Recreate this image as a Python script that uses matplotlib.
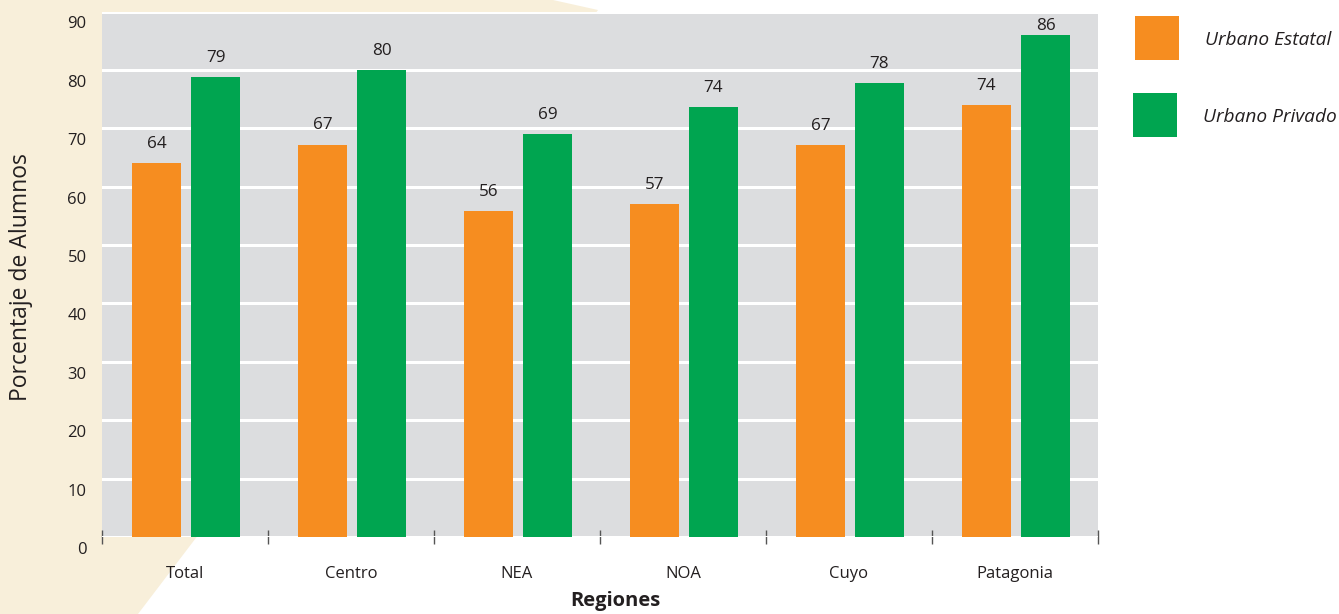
import matplotlib
matplotlib.use("Agg")
import matplotlib.pyplot as plt
from matplotlib.patches import Polygon, Rectangle
import matplotlib.transforms as mtransforms
import numpy as np

categories = ["Total", "Centro", "NEA", "NOA", "Cuyo", "Patagonia"]
estatal = [64.0, 67.2, 55.8, 57.0, 67.1, 74.0]
privado = [78.7, 79.9, 69.0, 73.6, 77.7, 85.9]
series_names = ["Urbano Estatal", "Urbano Privado"]
yticks = [0, 10, 20, 30, 40, 50, 60, 70, 80, 90]

ORANGE = "#F68D20"
GREEN = "#00A550"
GREY = "#DCDDDF"
BEIGE = "#F8EFDA"
TXT = "#231F20"

plt.rcParams["font.family"] = ["Open Sans", "DejaVu Sans"]

W, H = 1339, 614
fig = plt.figure(figsize=(W / 100, H / 100), dpi=100)

def fx(px):
    return px / W

def fy(py):
    return 1 - py / H

# beige background shape
poly = Polygon([(fx(0), fy(0)), (fx(553), fy(0)), (fx(598), fy(10)),
                (fx(138), fy(614)), (fx(0), fy(614))],
               closed=True, transform=fig.transFigure, facecolor=BEIGE,
               edgecolor="none", zorder=0)
fig.patches.append(poly)

left, right, top, bottom = 102, 1098, 11.5, 537
ax = fig.add_axes([fx(left), fy(bottom), fx(right - left), (bottom - top) / H])
ax.set_facecolor(GREY)
ax.set_zorder(1)

x = np.arange(len(categories))
off = 0.178
bw = 0.29
b1 = ax.bar(x - off + 0.006, estatal, bw, color=ORANGE, zorder=3)
b2 = ax.bar(x + off + 0.006, privado, bw, color=GREEN, zorder=3)

for bars, vals in ((b1, estatal), (b2, privado)):
    for r, v in zip(bars, vals):
        ly = min(v + 3.3, 87.6)
        ax.text(r.get_x() + r.get_width() / 2, ly, f"{v:.0f}",
                ha="center", va="center", fontsize=12.3, color=TXT, zorder=4)

ax.set_xlim(-0.5, len(categories) - 0.5)
ax.set_ylim(0, 90)
ax.set_yticks(yticks)
ax.set_yticklabels([str(t) for t in yticks], fontsize=12, color=TXT)
ax.tick_params(axis="y", length=0, pad=11)
offset = mtransforms.ScaledTranslation(0, -11 / 100, fig.dpi_scale_trans)
for lbl in ax.get_yticklabels():
    lbl.set_transform(lbl.get_transform() + offset)

ax.set_xticks(x)
ax.set_xticklabels(categories, fontsize=12, color=TXT)
ax.tick_params(axis="x", which="major", length=0, pad=21)
ax.set_xticks(np.arange(-0.5, len(categories)), minor=True)
ax.tick_params(axis="x", which="minor", direction="inout", length=9.5,
               width=1, color="#555555")

ax.grid(axis="y", color="white", linewidth=2.2, zorder=1)
ax.set_axisbelow(True)
for s in ax.spines.values():
    s.set_visible(False)

ax.set_xlabel("Regiones", fontsize=14.5, fontweight="bold", color=TXT,
              va="center")
ax.xaxis.set_label_coords((615 - left) / (right - left), (bottom - 601) / (bottom - top))
fig.text(fx(21), fy(277), "Porcentaje de Alumnos", rotation=90, fontsize=16.5,
         color=TXT, ha="center", va="center")

# legend (drawn manually to match square swatches)
leg_items = [(1135, 16, 1205, 40), (1133, 93, 1203, 117)]
for (sx, sy, tx, ty), name, col in zip(leg_items, series_names, [ORANGE, GREEN]):
    fig.patches.append(Rectangle((fx(sx), fy(sy + 44)), 44 / W, 44 / H,
                                 transform=fig.transFigure, facecolor=col,
                                 edgecolor="none", zorder=2))
    fig.text(fx(tx), fy(ty), name, fontsize=13.8, style="italic", color=TXT,
             ha="left", va="center")

fig.savefig("out.png", dpi=100)
